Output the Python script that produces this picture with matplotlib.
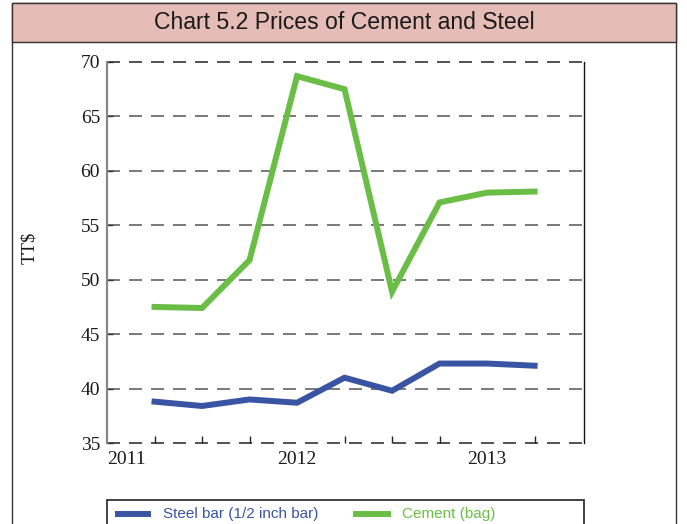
import matplotlib
matplotlib.use("Agg")
import matplotlib.pyplot as plt
from matplotlib.patches import Rectangle
from matplotlib.lines import Line2D

# Data (quarterly, decimal years)
periods = [2011.25, 2011.5, 2011.75, 2012.0, 2012.25, 2012.5, 2012.75, 2013.0, 2013.25]
steel = [38.8, 38.4, 39.0, 38.7, 41.0, 39.8, 42.3, 42.3, 42.1]
cement = [47.5, 47.4, 51.8, 68.7, 67.5, 48.9, 57.1, 58.0, 58.1]
year_ticks = [2011, 2012, 2013]
y_ticks = [35, 40, 45, 50, 55, 60, 65, 70]
title = "Chart 5.2 Prices of Cement and Steel"
steel_label = "Steel bar (1/2 inch bar)"
cement_label = "Cement (bag)"

BLUE = "#3A54A4"
GREEN = "#6BBE45"
W, H = 687, 524

fig = plt.figure(figsize=(W / 100, H / 100), dpi=100)

# outer frame and title band
fig.patches.append(Rectangle((12 / W, -0.1), (676 - 12) / W, 1.0 + 0.1 - 3 / H,
                             transform=fig.transFigure, facecolor="white",
                             edgecolor="#333333", linewidth=1.0, zorder=-2))
fig.patches.append(Rectangle((12 / W, 1 - 42 / H), (676 - 12) / W, (42 - 3) / H,
                             transform=fig.transFigure, facecolor="#E6BDB6",
                             edgecolor="#333333", linewidth=1.0, zorder=-1))
fig.text(344 / W, 1 - 22.5 / H, title, ha="center", va="center",
         fontsize=16.6, family="Liberation Sans", color="#1a1a1a")

ax = fig.add_axes([107 / W, 1 - 443 / H, (584 - 107) / W, (443 - 62) / H])
ax.set_zorder(5)
ax.patch.set_alpha(0)
ax.plot(periods, cement, color=GREEN, lw=4.3, solid_joinstyle="miter", zorder=3)
ax.plot(periods, steel, color=BLUE, lw=4.3, solid_joinstyle="miter", zorder=3)

ax.set_xlim(2011, 2013.51)
ax.set_ylim(35, 70)
ax.set_yticks(y_ticks)
ax.set_xticks(year_ticks)
ax.set_xticklabels([str(y) for y in year_ticks])
ax.set_xticks(periods, minor=True)

for y in y_ticks:
    ax.axhline(y, color="#555555" if y not in (35, 70) else "#222222",
               lw=1.1, dashes=(8.5, 5.9), zorder=1, clip_on=False)

for s in ("top", "bottom"):
    ax.spines[s].set_visible(False)
ax.spines["left"].set_color("#888888")
ax.spines["left"].set_linewidth(1.6)
ax.spines["right"].set_color("#111111")
ax.spines["right"].set_linewidth(1.0)

ax.tick_params(axis="y", direction="in", length=4, width=1, color="#333333",
               labelsize=14, pad=5)
ax.tick_params(axis="x", which="major", direction="in", length=0, labelsize=14, pad=6)
ax.tick_params(axis="x", which="minor", direction="in", length=5, width=1, color="#222222")
for lab in ax.get_xticklabels() + ax.get_yticklabels():
    lab.set_family("Liberation Serif")
    lab.set_color("#1a1a1a")
first = ax.get_xticklabels()[0]
first.set_horizontalalignment("left")

fig.text(30 / W, 1 - 248 / H, "TT$", rotation=90, family="Liberation Serif",
         fontsize=13.5, color="#1a1a1a", ha="center", va="center")

# legend box
fig.patches.append(Rectangle((107 / W, -0.1), (584 - 107) / W, 0.1 + 1 - 500 / H,
                             transform=fig.transFigure, facecolor="white",
                             edgecolor="#222222", linewidth=1.2, zorder=2))
ly = 1 - 514 / H
fig.add_artist(Line2D([118 / W, 148 / W], [ly, ly], color=BLUE, lw=4.3,
                      transform=fig.transFigure, zorder=3))
fig.text(163 / W, ly, steel_label, color=BLUE, fontsize=11,
         family="Liberation Sans", va="center", ha="left")
fig.add_artist(Line2D([356 / W, 388 / W], [ly, ly], color=GREEN, lw=4.3,
                      transform=fig.transFigure, zorder=3))
fig.text(402 / W, ly, cement_label, color=GREEN, fontsize=11,
         family="Liberation Sans", va="center", ha="left")

fig.savefig("out.png", dpi=100)
